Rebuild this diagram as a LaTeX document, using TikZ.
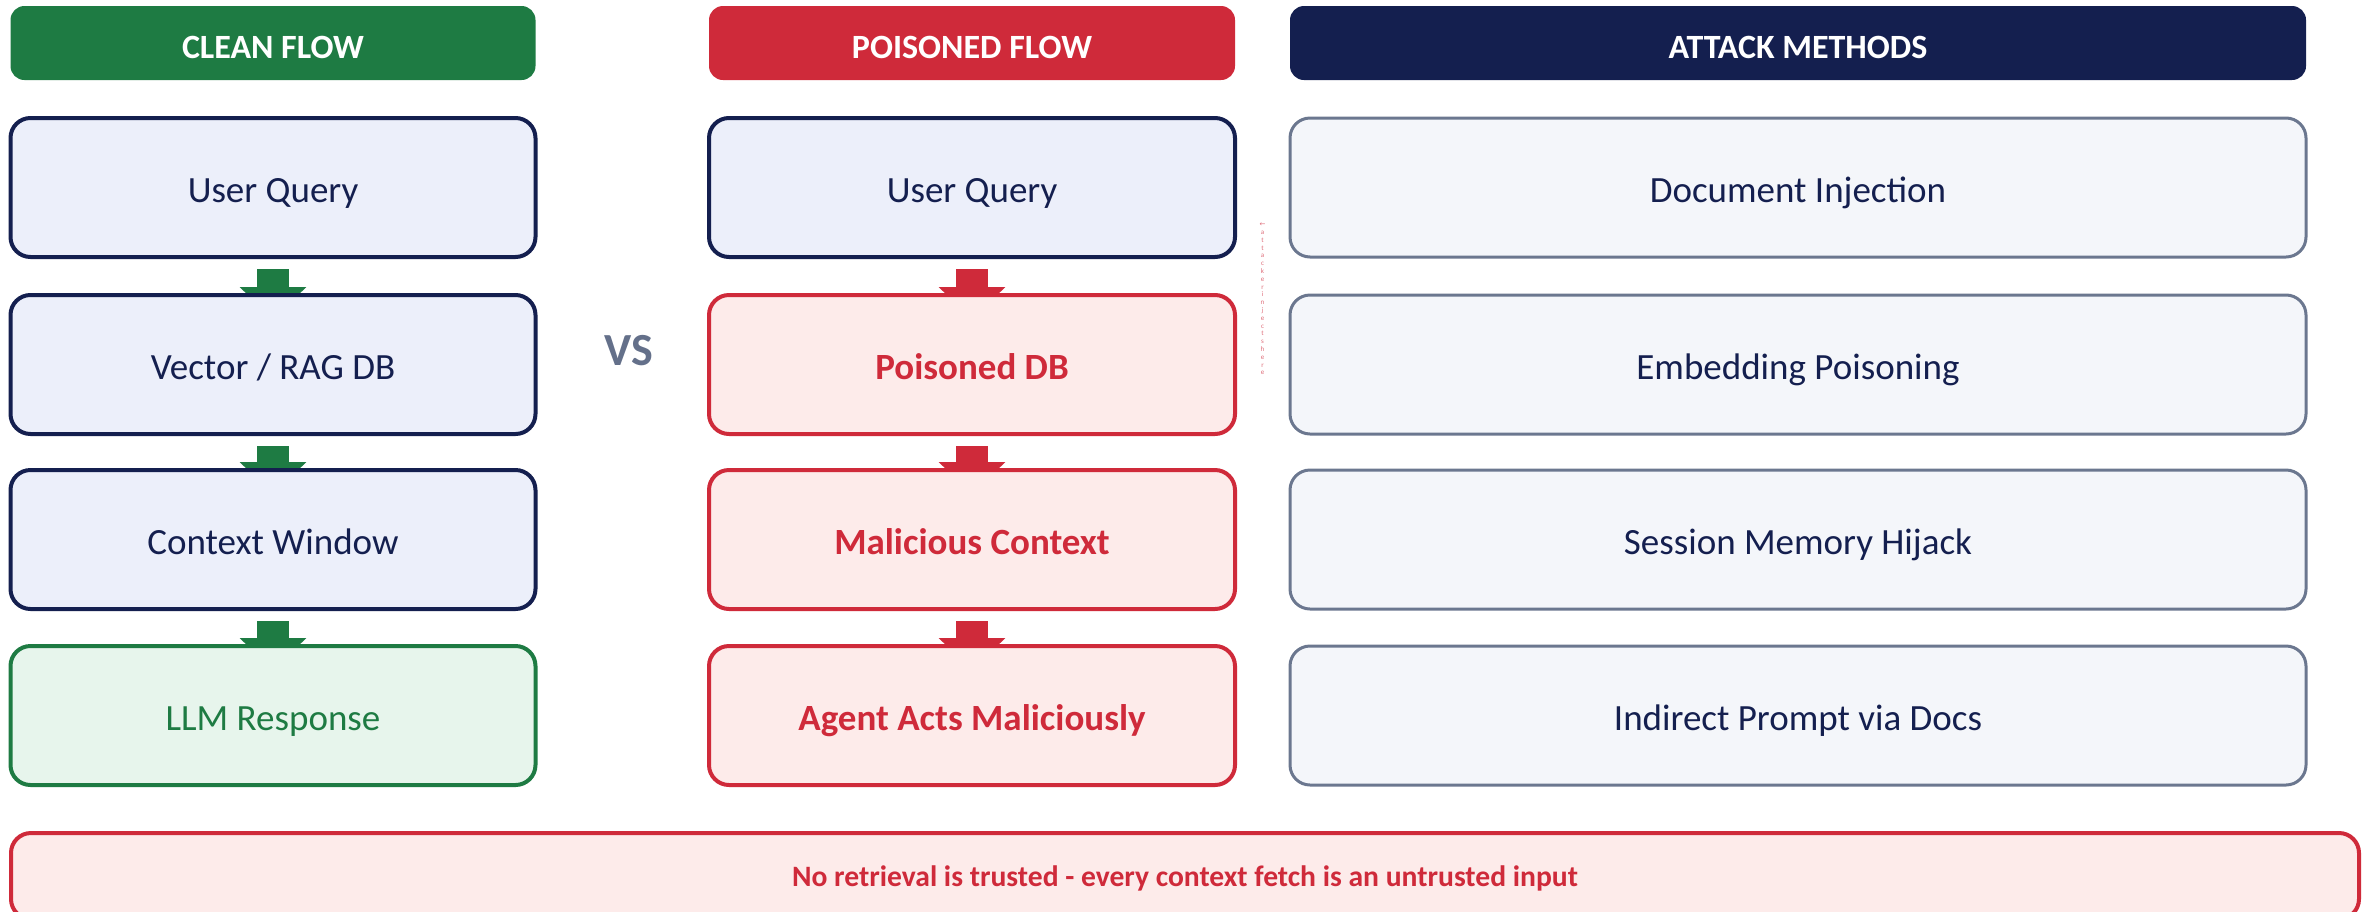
\documentclass[tikz,border=0pt]{standalone}
\usepackage{fontspec}
\setmainfont{Carlito}
\newfontfamily\symfont{DejaVu Sans}
\usetikzlibrary{arrows.meta,calc}
\pgfdeclarelayer{bg}
\pgfsetlayers{bg,main}

\definecolor{cgreen}{HTML}{1E7B43}
\definecolor{cred}{HTML}{CF2A3A}
\definecolor{cnavy}{HTML}{141F4F}
\definecolor{fblue}{HTML}{ECEFFA}
\definecolor{fgreen}{HTML}{E7F5EC}
\definecolor{fred}{HTML}{FDEBEA}
\definecolor{fgray}{HTML}{F4F6FA}
\definecolor{bgray}{HTML}{6B778F}
\definecolor{cslate}{HTML}{64708A}
\definecolor{cpink}{HTML}{DE6E7A}

\begin{document}
\begin{tikzpicture}[x=0.5pt,y=-0.5pt,
  header/.style={rounded corners=7pt, minimum height=37pt, inner sep=0pt,
    text height=15.2pt, text depth=0pt,
    text=white, font=\fontsize{17}{20}\selectfont\bfseries},
  box/.style={rounded corners=10pt, minimum height=69.5pt, inner sep=0pt,
    text height=14.8pt, text depth=0pt,
    line width=2pt, font=\fontsize{18.5}{22}\selectfont},
  leftcol/.style={minimum width=262.5pt},
  midcol/.style={minimum width=263pt},
  rightcol/.style={minimum width=508pt},
  cleanbox/.style={box, leftcol, draw=cnavy, fill=fblue, text=cnavy},
  okbox/.style={box, leftcol, draw=cgreen, fill=fgreen, text=cgreen},
  userbox/.style={box, midcol, draw=cnavy, fill=fblue, text=cnavy},
  badbox/.style={box, midcol, draw=cred, fill=fred, text=cred,
    font=\fontsize{18.5}{22}\selectfont\bfseries},
  methodbox/.style={box, rightcol, line width=1.5pt, draw=bgray, fill=fgray, text=cnavy},
  flow/.style={line width=16pt, -{Triangle[width=32.5pt,length=16pt]},
    shorten <=5pt, shorten >=-13pt},
]
\useasboundingbox (0,0) rectangle (2371,911);

% column headers
\node[header, leftcol, fill=cgreen] (hclean) at (273,43) {CLEAN FLOW};
\node[header, midcol, fill=cred] (hpois) at (972,43) {POISONED FLOW};
\node[header, rightcol, fill=cnavy] (hatk) at (1798,43) {ATTACK METHODS};

% clean flow
\node[cleanbox] (c1) at (273,187.5) {User Query};
\node[cleanbox] (c2) at (273,364.5) {Vector / RAG DB};
\node[cleanbox] (c3) at (273,539.5) {Context Window};
\node[okbox]    (c4) at (273,715.5) {LLM Response};

% poisoned flow
\node[userbox] (p1) at (972,187.5) {User Query};
\node[badbox]  (p2) at (972,364.5) {Poisoned DB};
\node[badbox]  (p3) at (972,539.5) {Malicious Context};
\node[badbox]  (p4) at (972,715.5) {Agent Acts Maliciously};

% attack methods
\node[methodbox] (m1) at (1798,187.5) {Document Injection};
\node[methodbox] (m2) at (1798,364.5) {Embedding Poisoning};
\node[methodbox] (m3) at (1798,539.5) {Session Memory Hijack};
\node[methodbox] (m4) at (1798,715.5) {Indirect Prompt via Docs};

% versus label
\node[text=cslate, font=\fontsize{23}{26}\selectfont\bfseries] (vs) at (629,351) {VS};

% injection marker
\node[text=cpink, align=center, inner sep=0pt,
  font=\fontsize{3.5}{3.9}\selectfont] (inj) at (1262.5,299)
  {{\symfont ←}\\a\\t\\t\\a\\c\\k\\e\\r\\i\\n\\j\\e\\c\\t\\s\\h\\e\\r\\e};

% bottom banner, running off the lower edge
\node[rounded corners=10pt, minimum width=1174pt, minimum height=43pt,
  inner sep=0pt, line width=2pt, draw=cred, fill=fred, text=cred,
  text height=10.6pt, text depth=0pt,
  font=\fontsize{14.8}{17}\selectfont\bfseries] (banner) at (1185,876)
  {No retrieval is trusted - every context fetch is an untrusted input};

% flow arrows, kept under the boxes
\begin{pgfonlayer}{bg}
  \draw[flow, cgreen] (c1.south) -- (c2.north);
  \draw[flow, cgreen] (c2.south) -- (c3.north);
  \draw[flow, cgreen] (c3.south) -- (c4.north);
  \draw[flow, cred] (p1.south) -- (p2.north);
  \draw[flow, cred] (p2.south) -- (p3.north);
  \draw[flow, cred] (p3.south) -- (p4.north);
\end{pgfonlayer}
\end{tikzpicture}
\end{document}
